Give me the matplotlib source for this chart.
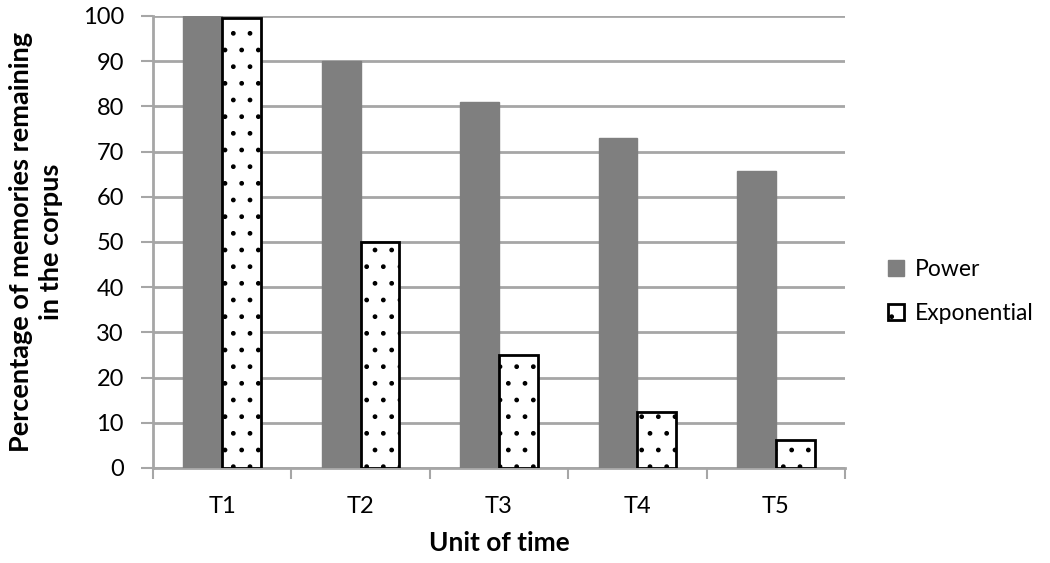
import matplotlib
matplotlib.use("Agg")
import matplotlib.pyplot as plt
import numpy as np

categories = ["T1", "T2", "T3", "T4", "T5"]
power = [100, 90, 81, 72.9, 65.6]
exponential = [99.5, 50, 25, 12.5, 6.25]
yticks = list(range(0, 101, 10))

plt.rcParams['font.family'] = ['Lato', 'DejaVu Sans']
plt.rcParams['hatch.linewidth'] = 1.0
plt.rcParams['hatch.color'] = 'black'

fig = plt.figure(figsize=(10.5, 5.63), dpi=100)
ax = fig.add_axes([153/1050, 1-468/563, (845-153)/1050, (468-16)/563])

x = np.arange(len(categories))
w = 0.28
ax.bar(x - w/2, power, width=w, color='#7f7f7f', edgecolor='#7f7f7f', label='Power', zorder=3)
ax.bar(x + w/2, exponential, width=w, color='white', edgecolor='black', linewidth=2,
       hatch='.', label='Exponential', zorder=3)

ax.set_xlim(-0.5, len(categories) - 0.5)
ax.set_ylim(0, 100)
ax.set_yticks(yticks)
ax.set_yticklabels([str(v) for v in yticks], fontsize=17)
ax.yaxis.grid(True, color='#a6a6a6', linewidth=2, zorder=0)
ax.set_axisbelow(True)

ax.set_xticks(x)
ax.set_xticklabels(categories, fontsize=17)
ax.tick_params(axis='x', length=0, pad=20)
ax.set_xticks(np.arange(-0.5, len(categories)), minor=True)
ax.tick_params(axis='x', which='minor', length=8, width=1.5, color='#a6a6a6')
ax.tick_params(axis='y', length=9, width=1.5, color='#a6a6a6', pad=12)

for s in ['top', 'right']:
    ax.spines[s].set_visible(False)
for s in ['left', 'bottom']:
    ax.spines[s].set_color('#a6a6a6')
    ax.spines[s].set_linewidth(2)

ax.set_xlabel('Unit of time', fontsize=19, fontweight='bold', labelpad=10)
ax.set_ylabel('Percentage of memories remaining\nin the corpus', fontsize=19.5,
              fontweight='bold', labelpad=14, linespacing=1.3)

ax.legend(loc='center left', bbox_to_anchor=(872/1050, 0.482), bbox_transform=fig.transFigure,
          frameon=False, fontsize=16.5, handlelength=0.7, handleheight=0.7,
          handletextpad=0.45, labelspacing=1.0, borderpad=0.2)

fig.savefig('out.png', dpi=100)
